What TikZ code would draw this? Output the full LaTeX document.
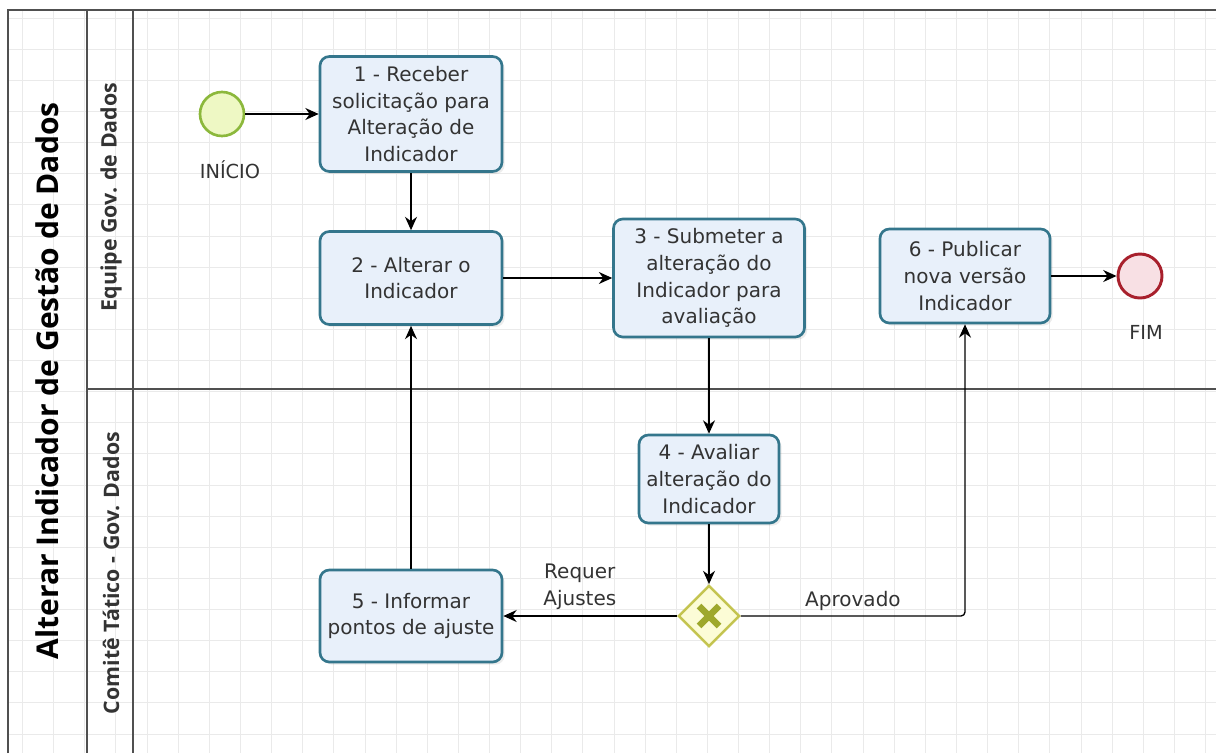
\documentclass[tikz,border=0pt]{standalone}
\usepackage{fontspec}
\setmainfont{DejaVu Sans}
\newfontfamily\lanefont{Open Sans}
\usetikzlibrary{shapes.geometric,arrows.meta,shadows}

\definecolor{taskborder}{RGB}{52,118,140}
\definecolor{taskfill}{RGB}{232,240,250}
\definecolor{startborder}{RGB}{140,184,60}
\definecolor{startfill}{RGB}{238,248,196}
\definecolor{endborder}{RGB}{168,32,44}
\definecolor{endfill}{RGB}{248,224,228}
\definecolor{gwborder}{RGB}{196,196,80}
\definecolor{gwfill}{RGB}{252,252,214}
\definecolor{gwmark}{RGB}{158,168,44}
\definecolor{textgray}{RGB}{51,51,51}
\definecolor{gridgray}{RGB}{234,234,234}
\definecolor{lanegray}{RGB}{80,80,80}

\tikzstyle{gridline} = [draw=gridgray,line width=0.6pt]
\tikzstyle{lane} = [draw=lanegray,line width=1.1pt]
\tikzstyle{title} = [font=\lanefont\bfseries\fontsize{22.5}{26}\selectfont,text=black]
\tikzstyle{lanelabel} = [font=\lanefont\bfseries\fontsize{16}{18}\selectfont,text=textgray]
\tikzstyle{task} = [draw=taskborder,fill=taskfill,line width=2pt,rounded corners=7pt,
  align=center,text=textgray,font=\fontsize{15}{20}\selectfont,inner sep=2pt,
  drop shadow={shadow xshift=2pt,shadow yshift=-2pt,opacity=0.15}]
\tikzstyle{startevent} = [circle,draw=startborder,fill=startfill,line width=2pt,minimum size=33pt,inner sep=0pt]
\tikzstyle{endevent} = [circle,draw=endborder,fill=endfill,line width=2.2pt,minimum size=33pt,inner sep=0pt]
\tikzstyle{gateway} = [diamond,aspect=1,draw=gwborder,fill=gwfill,line width=1.8pt,minimum size=46pt,inner sep=0pt]
\tikzstyle{gwcross} = [draw=gwmark,line width=5pt]
\tikzstyle{eventlabel} = [font=\fontsize{14.5}{16}\selectfont,text=textgray]
\tikzstyle{flowlabel} = [font=\fontsize{15}{20}\selectfont,text=textgray,align=center]
\tikzstyle{flow} = [->,>={Stealth[length=10pt,width=9pt]},line width=1pt]

\begin{document}
\begin{tikzpicture}[x=0.75pt,y=-0.75pt]
    \useasboundingbox (0,0) rectangle (1216,753);
    % grid
    \foreach \gx in {0,...,38}
      \draw[gridline] (22.5+\gx*31.13,10) -- (22.5+\gx*31.13,753);
    \foreach \gy in {0,...,23}
      \draw[gridline] (8,18+\gy*31.13) -- (1216,18+\gy*31.13);
    % pool and lanes
    \draw[lane] (8,753) -- (8,10) -- (1216,10);
    \draw[lane] (87,10) -- (87,753);
    \draw[lane] (133,10) -- (133,753);
    \draw[lane] (87,389) -- (1216,389);
    \node[title,rotate=90] (pooltitle) at (47,381) {Alterar Indicador de Gestão de Dados};
    \node[lanelabel,rotate=90] (laneequipe) at (111,197) {Equipe Gov. de Dados};
    \node[lanelabel,rotate=90] (lanecomite) at (111,573) {Comitê Tático - Gov. Dados};

    % nodes
    \node[startevent] (start) at (222,114) {};
    \node[eventlabel] (startlabel) at (230,170) {INÍCIO};
    \foreach \name/\x/\y/\w/\h/\txt in {
      t1/411/114/182/115/{1 - Receber\\solicitação para\\Alteração de\\Indicador},
      t2/411/278/182/93/{2 - Alterar o\\Indicador},
      t3/709/278/191/118/{3 - Submeter a\\alteração do\\Indicador para\\avaliação},
      t4/709/479/140/88/{4 - Avaliar\\alteração do\\Indicador},
      t5/411/616/182/92/{5 - Informar\\pontos de ajuste},
      t6/965/276/170/94/{6 - Publicar\\nova versão\\Indicador}}
    {
        \node[task,minimum width=\w*0.75pt,minimum height=\h*0.75pt] (\name) at (\x,\y) {\txt};
    };
    \node[gateway] (gw) at (709,616) {};
    \draw[gwcross] (gw.center) ++(-10,-10) -- ++(20,20);
    \draw[gwcross] (gw.center) ++(-10,10) -- ++(20,-20);
    \node[endevent] (end) at (1140,276) {};
    \node[eventlabel] (endlabel) at (1146,332) {FIM};

    % edges
    \path
    \foreach \startnode/\endnode in {start/t1, t1/t2, t2/t3, t3/t4, t4/gw, t5/t2, t6/end}
    {
      (\startnode) edge[flow] (\endnode)
    };
    \draw[flow] (gw) -- node[flowlabel,pos=0.56,above,yshift=1pt] {Requer\\Ajustes} (t5);
    \draw[flow,rounded corners=3pt] (gw) -| node[flowlabel,pos=0.25,above] {Aprovado} (t6);
\end{tikzpicture}
\end{document}
